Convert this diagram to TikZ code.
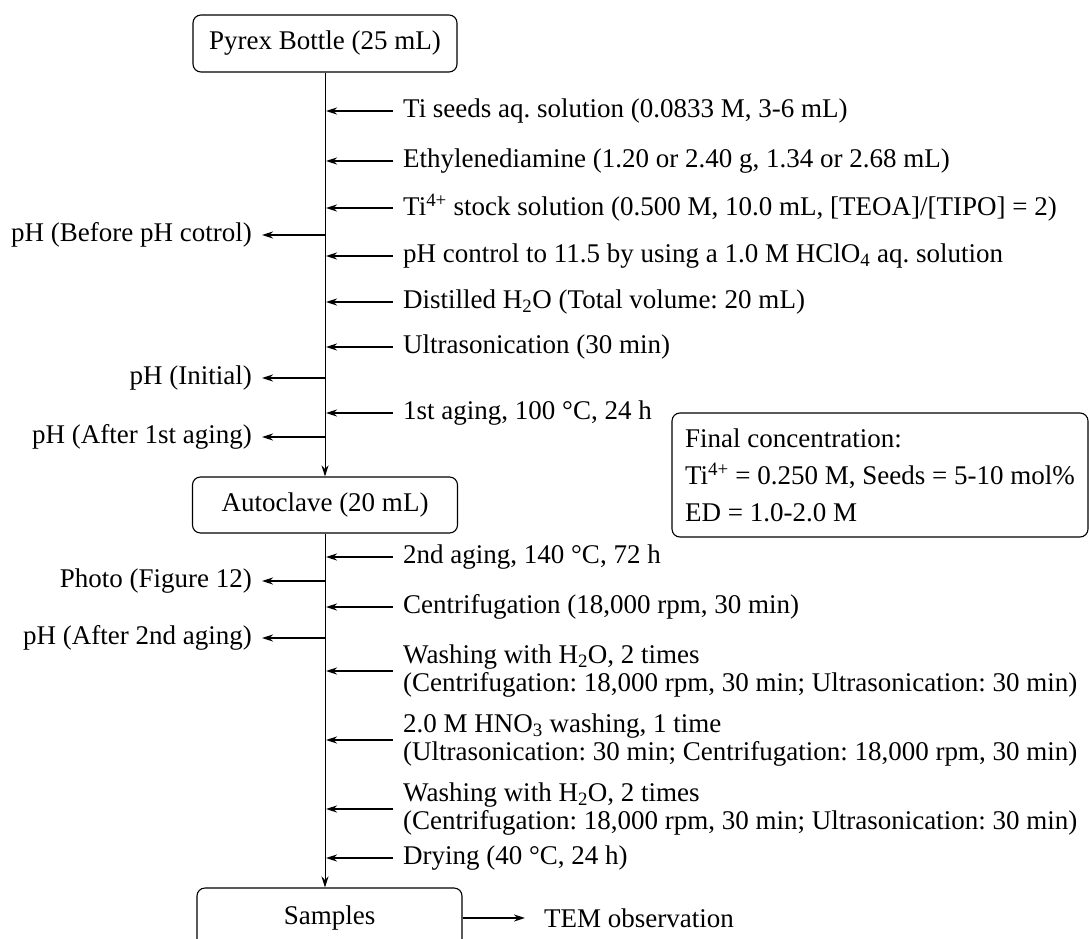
\documentclass[tikz,border=0pt]{standalone}
\usepackage{fontspec}
\setmainfont{Liberation Serif}
\usetikzlibrary{arrows.meta}
\frenchspacing
\begin{document}
\begin{tikzpicture}[x=1pt,y=-1pt,
  every node/.style={font=\fontsize{27}{28}\selectfont},
  box/.style={draw, line width=1.1pt, rounded corners=8pt, inner sep=0pt},
  rt/.style={anchor=west, inner xsep=10pt, inner ysep=0pt, align=left},
  lt/.style={anchor=east, inner xsep=10pt, inner ysep=0pt},
  arr/.style={line width=1.7pt, -{Stealth[length=11pt,width=7pt]}},
  varr/.style={line width=1pt, -{Stealth[length=11pt,width=7pt]}}]
\useasboundingbox (0,0) rectangle (1089,939);
\clip (0,0) rectangle (1089,939);

% main boxes
\node[box, minimum width=264pt, minimum height=57pt] (pyrex) at (325,43.5) {Pyrex Bottle (25 mL)};
\node[box, minimum width=265pt, minimum height=56pt] (auto) at (325,505) {Autoclave (20 mL)};
\node[box, minimum width=265pt, minimum height=60pt] (samp) at (329.5,918) {Samples};
\node[box, minimum width=416pt, minimum height=124pt, align=left,
      font=\fontsize{27}{37}\selectfont] (final) at (880,475)
  {Final concentration:\\ Ti\textsuperscript{4+} = 0.250 M, Seeds = 5-10 mol\%\\ ED = 1.0-2.0 M};

% main vertical flow
\coordinate (mainx) at (326,0);
\coordinate (mainl) at (325.5,0);
\draw[varr] (pyrex.south) -- (auto.north);
\draw[varr] (auto.south) -- (auto.south |- samp.north);

% inputs (right side)
\node[rt] (r1) at (393,111) {Ti seeds aq. solution (0.0833 M, 3-6 mL)};
\node[rt] (r2) at (393,161) {Ethylenediamine (1.20 or 2.40 g, 1.34 or 2.68 mL)};
\node[rt] (r3) at (393,208) {Ti\textsuperscript{4+} stock solution (0.500 M, 10.0 mL, [TEOA]/[TIPO] = 2)};
\node[rt] (r4) at (393,256) {pH control to 11.5 by using a 1.0 M HClO\textsubscript{4} aq. solution};
\node[rt] (r5) at (393,302) {Distilled H\textsubscript{2}O (Total volume: 20 mL)};
\node[rt] (r6) at (393,347) {Ultrasonication (30 min)};
\node[rt] (r7) at (393,413) {1st aging, 100 °C, 24 h};
\node[rt] (r8) at (393,557) {2nd aging, 140 °C, 72 h};
\node[rt] (r9) at (393,607) {Centrifugation (18,000 rpm, 30 min)};
\node[rt] (r10) at (393,671) {Washing with H\textsubscript{2}O, 2 times\\(Centrifugation: 18,000 rpm, 30 min; Ultrasonication: 30 min)};
\node[rt] (r11) at (393,740) {2.0 M HNO\textsubscript{3} washing, 1 time\\(Ultrasonication: 30 min; Centrifugation: 18,000 rpm, 30 min)};
\node[rt] (r12) at (393,809) {Washing with H\textsubscript{2}O, 2 times\\(Centrifugation: 18,000 rpm, 30 min; Ultrasonication: 30 min)};
\node[rt] (r13) at (393,858) {Drying (40 °C, 24 h)};

\foreach \i in {1,...,13}{
  \draw[arr] (r\i.west) -- (r\i.west -| mainx);
}

% outputs (left side)
\node[lt] (l1) at (262,235) {pH (Before pH cotrol)};
\node[lt] (l2) at (262,378) {pH (Initial)};
\node[lt] (l3) at (262,437) {pH (After 1st aging)};
\node[lt] (l4) at (262,581) {Photo (Figure 12)};
\node[lt] (l5) at (262,638) {pH (After 2nd aging)};

\foreach \i in {1,...,5}{
  \draw[arr] (l\i.east -| mainl) -- (l\i.east);
}

% TEM
\node[anchor=west, inner xsep=10pt, inner ysep=0pt] (tem) at (534,918) {TEM observation};
\draw[arr, shorten >=9pt] (samp.east) -- (tem.west);
\end{tikzpicture}
\end{document}
